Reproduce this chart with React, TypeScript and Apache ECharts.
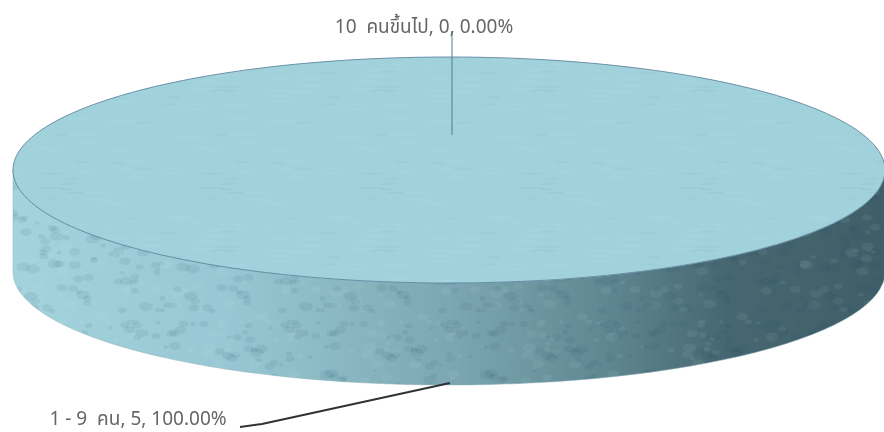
import React, { useEffect, useRef } from "react";
import * as echarts from "echarts";

const categories = ["1 - 9  คน", "10  คนขึ้นไป"];
const values = [5, 0];

const CX = 449;
const CY = 170;
const RX = 436;
const RY = 113;
const DEPTH = 102;

const hash = (n: number) => {
  const s = Math.sin(n * 127.1) * 43758.5453;
  return s - Math.floor(s);
};

function makeTile(kind: "top" | "side"): HTMLCanvasElement {
  const size = 160;
  const c = document.createElement("canvas");
  c.width = size;
  c.height = size;
  const g = c.getContext("2d")!;
  const count = kind === "top" ? 60 : 170;
  for (let i = 0; i < count; i++) {
    const x = hash(i + 1) * size;
    const y = hash(i + 501) * size;
    const w = hash(i + 901);
    if (kind === "top") {
      g.fillStyle = i % 3 === 0 ? "rgba(120,165,190,0.14)" : "rgba(190,230,235,0.12)";
      g.beginPath();
      g.ellipse(x, y, 6 + w * 10, 1, 0, 0, Math.PI * 2);
      g.fill();
    } else {
      g.fillStyle = i % 3 === 0 ? "rgba(215,242,246,0.07)" : "rgba(30,70,85,0.08)";
      g.beginPath();
      g.ellipse(x, y, 2 + w * 5, 1.5 + w * 3, 0, 0, Math.PI * 2);
      g.fill();
    }
  }
  return c;
}

const pt = (deg: number, dy = 0, f = 1): [number, number] => {
  const a = (deg * Math.PI) / 180;
  return [CX + RX * f * Math.sin(a), CY - RY * f * Math.cos(a) + dy];
};

function arc(from: number, to: number, dy: number): string {
  const dir = to >= from ? 1 : 0;
  let d = "";
  const steps = Math.max(1, Math.ceil(Math.abs(to - from) / 170));
  for (let i = 1; i <= steps; i++) {
    const p = pt(from + ((to - from) * i) / steps, dy);
    d += ` A ${RX} ${RY} 0 0 ${dir} ${p[0]} ${p[1]}`;
  }
  return d;
}

function topPath(a0: number, a1: number): string {
  const s = pt(a0);
  const full = a1 - a0 >= 359.999;
  return full
    ? `M ${s[0]} ${s[1]}${arc(a0, a1, 0)} Z`
    : `M ${CX} ${CY} L ${s[0]} ${s[1]}${arc(a0, a1, 0)} Z`;
}

function sidePath(a0: number, a1: number): string | null {
  const from = Math.max(a0, 90);
  const to = Math.min(a1, 270);
  if (to <= from) return null;
  const s = pt(from);
  const e = pt(to, DEPTH);
  return `M ${s[0]} ${s[1]}${arc(from, to, 0)} L ${e[0]} ${e[1]}${arc(to, from, DEPTH)} Z`;
}

export default function App() {
  const ref = useRef<HTMLDivElement>(null);
  useEffect(() => {
    const chart = echarts.init(ref.current!, null, { renderer: "svg" });
    const total = values.reduce((s, v) => s + v, 0);
    const topTile = makeTile("top");
    const sideTile = makeTile("side");
    const font = '19px "Noto Sans Thai", "Noto Sans", "DejaVu Sans", sans-serif';

    const sideFill = new echarts.graphic.LinearGradient(0, 0, 1, 0, [
      { offset: 0, color: "#a3d3dd" },
      { offset: 0.25, color: "#97c7d2" },
      { offset: 0.5, color: "#7ca7b2" },
      { offset: 0.68, color: "#5f8792" },
      { offset: 0.82, color: "#466771" },
      { offset: 1, color: "#3f5e68" },
    ]);

    const renderItem = (params: any, api: any) => {
      const i = params.dataIndex;
      const before = values.slice(0, i).reduce((s, v) => s + v, 0);
      const share = api.value(0) / total;
      const a0 = (before / total) * 360;
      const a1 = a0 + share * 360;
      const mid = (a0 + a1) / 2;
      const children: any[] = [];
      if (share > 0) {
        const side = sidePath(a0, a1);
        if (side) {
          children.push({ type: "path", shape: { pathData: side }, style: { fill: sideFill, stroke: "#8fb0ba", lineWidth: 0.5 } });
          children.push({ type: "path", shape: { pathData: side }, style: { fill: { image: sideTile, repeat: "repeat", imageWidth: 160, imageHeight: 160 } } });
        }
        const top = topPath(a0, a1);
        children.push({ type: "path", shape: { pathData: top }, style: { fill: "#a1d2dc", stroke: "#5f86a0", lineWidth: 0.9 } });
        children.push({ type: "path", shape: { pathData: top }, style: { fill: { image: topTile, repeat: "repeat", imageWidth: 160, imageHeight: 160 } } });
      }
      const onTop = Math.cos((mid * Math.PI) / 180) > 0;
      const pct = total ? (api.value(0) / total) * 100 : 0;
      const text = `${categories[i]}, ${api.value(0)}, ${pct.toFixed(2)}%`;
      if (onTop) {
        const p = pt(mid, 0, 0.31);
        children.push({ type: "line", shape: { x1: p[0] + 3, y1: p[1], x2: p[0] + 3, y2: 32 }, style: { stroke: "#4f7f8c", lineWidth: 1 } });
        children.push({ type: "text", style: { x: 424, y: 27, text, font, fill: "#666666", align: "center", verticalAlign: "middle" } });
      } else {
        const p = pt(mid, DEPTH);
        children.push({ type: "polyline", shape: { points: [[p[0] + 1, p[1] - 2], [262, 424], [240, 427]] }, style: { stroke: "#2f3233", lineWidth: 2, fill: "none" } });
        children.push({ type: "text", style: { x: 138, y: 419, text, font, fill: "#666666", align: "center", verticalAlign: "middle" } });
      }
      return { type: "group", children };
    };

    chart.setOption({
      animation: false,
      backgroundColor: "#ffffff",
      series: [
        {
          type: "custom",
          coordinateSystem: "none",
          renderItem,
          data: values.map((v) => [v]),
          encode: { value: 0 },
          silent: true,
        },
      ],
    });
    return () => chart.dispose();
  }, []);
  return <div ref={ref} style={{ position: "absolute", left: 0, top: 0, width: 884, height: 432, filter: "blur(0.5px)" }} />;
}
